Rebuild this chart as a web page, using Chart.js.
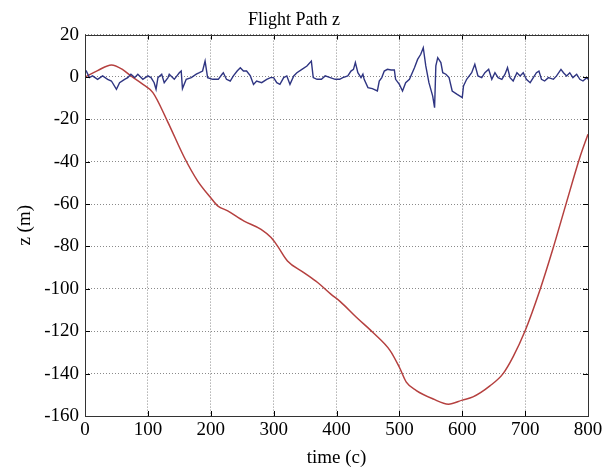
<!DOCTYPE html>
<html>
<head>
<meta charset="utf-8">
<script src="https://cdn.jsdelivr.net/npm/chart.js@4.4.1/dist/chart.umd.min.js"></script>
<style>
  html, body { margin: 0; padding: 0; background: #fff; }
  #wrap { width: 616px; height: 471px; }
</style>
</head>
<body>
<div id="wrap"><canvas id="pathChart" width="616" height="471"></canvas></div>
<script>
// Axes ticks
const xTicks = [0, 100, 200, 300, 400, 500, 600, 700, 800];
const yTicks = [20, 0, -20, -40, -60, -80, -100, -120, -140, -160];

// Blue trace (measured z, noisy around 0)
const blueT = [0, 2, 7, 12, 20, 28, 36, 42, 50, 55, 63, 68, 73, 79, 84, 92, 100, 105, 110, 113, 116, 122, 126, 132, 134, 142, 150, 153, 155, 161, 169, 177, 182, 187, 191, 195, 203,
  212, 218, 220, 225, 231, 236, 242, 247, 252, 257, 263, 268, 273, 281, 289, 295, 300, 305, 310, 316, 321, 326, 332, 337, 345, 353, 360, 363, 369, 376, 382, 390, 398,
  405, 410, 418, 423, 427, 430, 434, 439, 442, 444, 450, 457, 465, 468, 472, 476, 481, 487, 492, 494, 500, 505, 510, 516, 524, 529, 534, 538, 542, 547, 553, 556, 558, 561, 566, 569, 574, 579, 584, 592, 600,
  602, 607, 615, 620, 625, 631, 636, 642, 647, 652, 657, 663, 668, 672, 676, 681, 687, 692, 697, 702, 708, 713, 718, 722, 726, 731, 737, 745, 750, 757, 761, 766, 771, 776, 782, 787, 792, 798, 800];
const blueZ = [2.8, 2.8, -0.3, 0.5, -1.1, 0.5, -1.1, -1.9, -5.8, -2.7, -1.1, -0.3, 1.3, -0.3, 1.3, -1.1, 0.5, -0.3, -2.7, -5.8, -0.3, 1.3, -2.7, -0.3, 1.3, -1.1, 2.0, 2.8, -5.5, -1.1, -0.3, 1.3, 2.0, 2.8, 7.5, -0.3, -1.1,
  -1.1, 1.3, 2.0, -1.1, -1.9, 0.5, 2.8, 4.4, 2.8, 2.8, 0.5, -3.5, -1.9, -2.7, -1.1, -0.3, -0.3, -2.7, -3.5, -0.3, 0.5, -3.5, 0.5, 2.0, 3.6, 5.2, 7.5, -0.3, -1.1, -1.1, 0.5, -0.3, -1.1,
  -1.1, -0.3, 0.5, 2.8, 3.6, 6.8, 2.0, -0.3, 1.3, -1.1, -5.0, -5.5, -6.6, -1.9, -0.3, 2.8, 3.6, 3.3, 3.3, -1.1, -3.5, -6.6, -2.7, -1.1, 4.4, 8.3, 10.7, 13.8, 5.2, -2.7, -9.0, -14.5, 5.2, 9.1, 6.8, 2.0, 1.3, -0.3, -6.6, -8.2, -9.7,
  -4.2, -1.1, 2.0, 6.0, 0.5, -0.3, 2.0, 3.6, -1.1, 2.0, -0.3, -1.1, 1.3, 4.4, -0.3, -1.9, 2.0, 0.5, 2.0, -1.1, -2.7, -0.3, 2.0, 2.8, -1.1, -1.9, -0.3, -1.1, 0.5, 3.6, 2.0, 0.5, 2.0, -0.3, 1.3, -1.1, -1.9, -0.3, -1.1];

// Red trace (reference path z)
const redT = [0, 20, 42, 60, 73, 90, 108, 131, 158, 179, 200, 211, 227, 253, 280, 296, 306, 322, 348, 370, 391, 406, 432, 458, 485, 500, 511, 527, 554, 578, 600, 617, 644, 665, 681, 700, 723, 744, 765, 787, 800];
const redZ = [0, 3, 5.7, 3.5, 0.5, -3, -7.4, -20.8, -38, -49, -57, -60.8, -63.2, -68, -71.9, -75.8, -79.7, -86.8, -92.3, -97, -102.5, -106, -113.5, -120.6, -129, -137, -144, -148, -152, -154.4, -152.5, -151, -145.8, -140, -132, -119.8, -101, -81.3, -60, -38, -27];

const toPoints = (ts, zs) => ts.map((t, i) => ({ x: t, y: zs[i] }));

const serif = 'Liberation Serif';

// frame around the plot area plus inward tick marks (matlab look)
const framePlugin = {
  id: 'frame',
  afterDraw(chart) {
    const { ctx, chartArea: a, scales } = chart;
    ctx.save();
    ctx.strokeStyle = '#000';
    ctx.lineWidth = 1;
    ctx.beginPath();
    xTicks.forEach(v => {
      const px = Math.round(scales.x.getPixelForValue(v)) + 0.5;
      ctx.moveTo(px, a.bottom); ctx.lineTo(px, a.bottom - 5);
      ctx.moveTo(px, a.top); ctx.lineTo(px, a.top + 5);
    });
    yTicks.forEach(v => {
      const py = Math.round(scales.y.getPixelForValue(v)) + 0.5;
      ctx.moveTo(a.left, py); ctx.lineTo(a.left + 5, py);
      ctx.moveTo(a.right, py); ctx.lineTo(a.right - 5, py);
    });
    ctx.stroke();
    ctx.strokeStyle = '#333';
    ctx.strokeRect(Math.round(a.left) + 0.5, Math.round(a.top) + 0.5, Math.round(a.right - a.left), Math.round(a.bottom - a.top));
    ctx.restore();
  }
};

new Chart(document.getElementById('pathChart'), {
  type: 'scatter',
  data: {
    datasets: [
      {
        label: 'z measured',
        data: toPoints(blueT, blueZ),
        showLine: true,
        borderColor: '#2f3582',
        borderWidth: 1.4,
        pointRadius: 0,
        tension: 0
      },
      {
        label: 'z path',
        data: toPoints(redT, redZ),
        showLine: true,
        borderColor: '#b5403f',
        borderWidth: 1.5,
        pointRadius: 0,
        cubicInterpolationMode: 'monotone'
      }
    ]
  },
  options: {
    responsive: false,
    animation: false,
    layout: { padding: { top: 0, right: 28, bottom: 0, left: 0 } },
    plugins: {
      legend: { display: false },
      tooltip: { enabled: false },
      title: {
        display: true,
        text: 'Flight Path z',
        color: '#000',
        font: { family: serif, size: 18, weight: 'normal' },
        padding: { top: 9, bottom: 4 }
      }
    },
    scales: {
      x: {
        type: 'linear',
        min: 0,
        max: 800,
        afterBuildTicks: s => { s.ticks = xTicks.map(v => ({ value: v })); },
        afterFit: s => { s.height = 55; },
        ticks: { color: '#000', font: { family: serif, size: 19 }, padding: 3, maxRotation: 0 },
        grid: { color: '#8a8a8a', drawTicks: false },
        border: { display: false, dash: [1, 2] },
        title: { display: true, text: 'time (c)', color: '#000', font: { family: serif, size: 19 }, padding: { top: 0, bottom: 2 } }
      },
      y: {
        type: 'linear',
        min: -160,
        max: 20,
        afterBuildTicks: s => { s.ticks = yTicks.slice().reverse().map(v => ({ value: v })); },
        afterFit: s => { s.width = 85; },
        ticks: { color: '#000', font: { family: serif, size: 19 }, padding: 6 },
        grid: { color: '#8a8a8a', drawTicks: false },
        border: { display: false, dash: [1, 2] },
        title: { display: true, text: 'z (m)', color: '#000', font: { family: serif, size: 19 }, padding: { top: 14, bottom: 0 } }
      }
    }
  },
  plugins: [framePlugin]
});
</script>
</body>
</html>
